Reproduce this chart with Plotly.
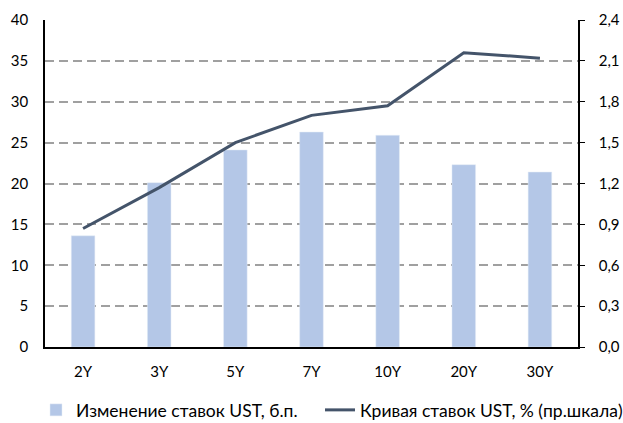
import plotly.graph_objects as go

categories = ["2Y", "3Y", "5Y", "7Y", "10Y", "20Y", "30Y"]
change_bp = [13.6, 20.1, 24.1, 26.3, 25.9, 22.3, 21.4]
curve_pct = [0.87, 1.17, 1.50, 1.70, 1.77, 2.16, 2.12]
left_ticks = [0, 5, 10, 15, 20, 25, 30, 35, 40]
right_ticks = [0.0, 0.3, 0.6, 0.9, 1.2, 1.5, 1.8, 2.1, 2.4]
right_labels = [f"{v:.1f}".replace(".", ",") for v in right_ticks]

W, H = 623, 423

fig = go.Figure()
fig.add_trace(go.Bar(
    x=categories, y=change_bp, name="Изменение ставок UST, б.п.",
    marker=dict(color="#B4C7E7"), yaxis="y", legend="legend",
))
fig.add_trace(go.Scatter(
    x=categories, y=curve_pct, name="Кривая ставок UST, % (пр.шкала)",
    mode="lines", line=dict(color="#44546A", width=3), yaxis="y2", legend="legend2",
))

leg_common = dict(orientation="h", xref="container", yref="container",
                  xanchor="left", yanchor="middle", y=1 - 410 / H,
                  font=dict(size=17.5), bgcolor="rgba(0,0,0,0)")

fig.update_layout(
    width=W, height=H,
    margin=dict(l=45, r=45, t=20, b=76, autoexpand=False),
    paper_bgcolor="white", plot_bgcolor="white",
    font=dict(family="Lato, Open Sans, sans-serif", size=15, color="#000000"),
    bargap=0.69,
    showlegend=True,
    legend=dict(x=36 / W, **leg_common),
    legend2=dict(x=320 / W, **leg_common),
    xaxis=dict(
        showline=True, linecolor="#000000", linewidth=1.5,
        ticks="outside", ticklen=10, tickcolor="rgba(0,0,0,0)",
        showgrid=False, tickfont=dict(size=15),
    ),
    yaxis=dict(
        range=[0, 40], tickvals=left_ticks, showline=True, linecolor="#000000",
        linewidth=1.5, ticks="outside", ticklen=12, tickcolor="rgba(0,0,0,0)",
        showgrid=True, gridcolor="#A0A0A0",
        griddash="9px,5px", gridwidth=2, zeroline=False, tickfont=dict(size=15),
    ),
    yaxis2=dict(
        range=[0, 2.4], tickvals=right_ticks, ticktext=right_labels,
        overlaying="y", side="right", showline=True, linecolor="#000000",
        linewidth=1.5, ticks="outside", ticklen=5, tickcolor="#000000",
        ticklabelstandoff=11,
        showgrid=False, zeroline=False, tickfont=dict(size=15),
    ),
)

fig.write_html("out.html", config={"displayModeBar": False},
               post_script="document.body.style.margin='0';document.body.style.overflow='hidden';")
